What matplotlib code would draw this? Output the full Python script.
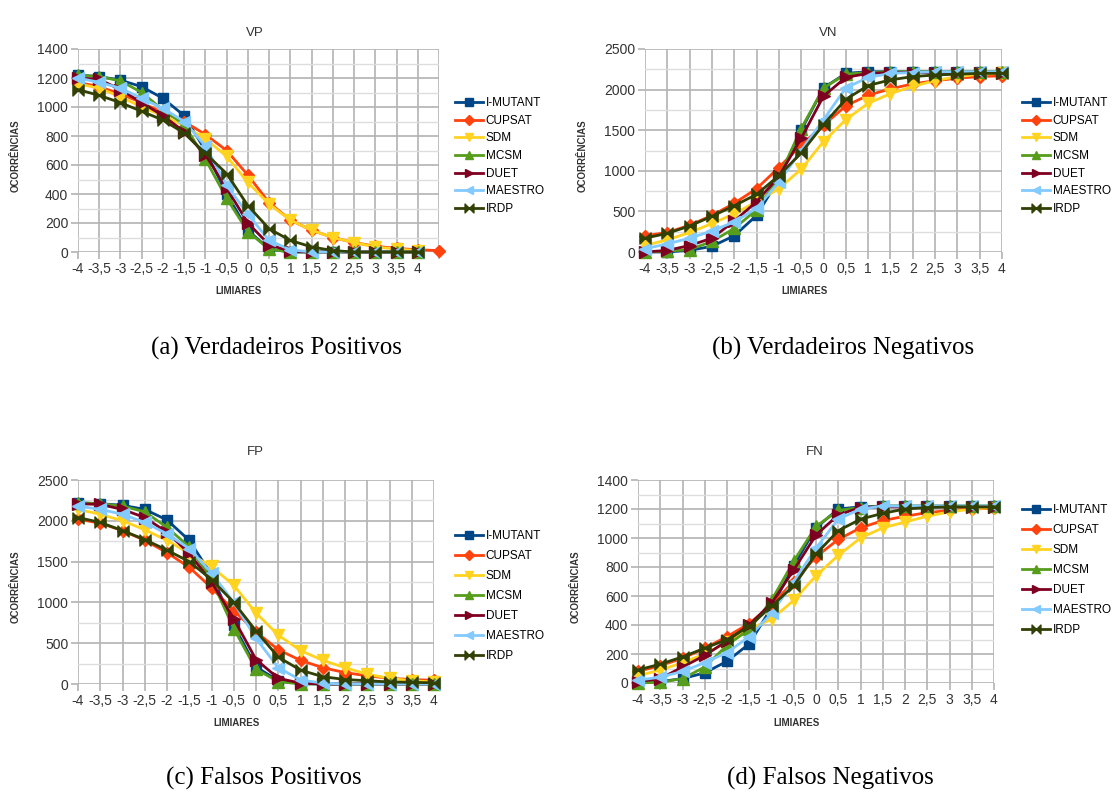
import numpy as np
import matplotlib
matplotlib.use("Agg")
import matplotlib.pyplot as plt
from matplotlib.path import Path
from matplotlib.ticker import MultipleLocator

# limiares -4 .. 4 (passo 0,5)
thresholds = [-4, -3.5, -3, -2.5, -2, -1.5, -1, -0.5, 0, 0.5, 1, 1.5, 2, 2.5, 3, 3.5, 4]
tools = ["I-MUTANT", "CUPSAT", "SDM", "MCSM", "DUET", "MAESTRO", "IRDP"]

# VP - verdadeiros positivos (CUPSAT tem um ponto extra em 4,5)
vp_imutant = [1220, 1210, 1185, 1140, 1060, 940, 700, 400, 150, 20, 0, 0, 0, 0, 0, 0, 0]
vp_cupsat = [1170, 1140, 1090, 1030, 960, 900, 810, 700, 530, 340, 220, 150, 100, 65, 40, 25, 15, 10]
vp_sdm = [1160, 1130, 1070, 1000, 940, 870, 780, 660, 480, 330, 220, 150, 100, 65, 35, 20, 10]
vp_mcsm = [1220, 1210, 1180, 1100, 980, 880, 640, 370, 140, 20, 0, 0, 0, 0, 0, 0, 0]
vp_duet = [1200, 1190, 1120, 1030, 940, 830, 670, 440, 200, 50, 5, 0, 0, 0, 0, 0, 0]
vp_maestro = [1200, 1170, 1130, 1060, 990, 900, 730, 460, 260, 80, 15, 0, 0, 0, 0, 0, 0]
vp_irdp = [1120, 1080, 1030, 970, 910, 820, 680, 540, 320, 160, 80, 35, 10, 0, 0, 0, 0]

# VN - verdadeiros negativos
vn_imutant = [0, 0, 20, 70, 200, 450, 900, 1500, 2020, 2200, 2220, 2220, 2220, 2220, 2220, 2220, 2220]
vn_cupsat = [200, 240, 330, 450, 600, 780, 1040, 1320, 1560, 1800, 1930, 2010, 2070, 2110, 2140, 2160, 2170]
vn_sdm = [80, 150, 240, 350, 470, 620, 780, 1020, 1360, 1630, 1830, 1950, 2040, 2110, 2160, 2190, 2200]
vn_mcsm = [0, 10, 30, 130, 290, 520, 920, 1520, 2020, 2190, 2210, 2220, 2220, 2220, 2220, 2220, 2220]
vn_duet = [0, 20, 80, 170, 380, 620, 930, 1400, 1920, 2150, 2200, 2210, 2210, 2210, 2210, 2210, 2210]
vn_maestro = [40, 100, 170, 260, 370, 540, 860, 1250, 1630, 2020, 2150, 2200, 2210, 2220, 2220, 2220, 2220]
vn_irdp = [170, 230, 320, 440, 570, 710, 940, 1220, 1570, 1880, 2050, 2120, 2160, 2180, 2190, 2200, 2200]

# FP - falsos positivos
fp_imutant = [2220, 2210, 2190, 2140, 2010, 1760, 1340, 720, 210, 40, 5, 0, 0, 0, 0, 0, 0]
fp_cupsat = [2020, 1970, 1880, 1760, 1610, 1430, 1180, 900, 640, 420, 290, 200, 140, 100, 70, 55, 45]
fp_sdm = [2140, 2080, 2000, 1890, 1760, 1600, 1440, 1210, 870, 600, 410, 290, 200, 120, 70, 40, 25]
fp_mcsm = [2220, 2210, 2180, 2110, 1920, 1680, 1280, 680, 180, 30, 0, 0, 0, 0, 0, 0, 0]
fp_duet = [2210, 2200, 2140, 2040, 1860, 1600, 1250, 800, 300, 70, 10, 0, 0, 0, 0, 0, 0]
fp_maestro = [2180, 2140, 2080, 1980, 1840, 1660, 1360, 1000, 560, 200, 50, 10, 0, 0, 0, 0, 0]
fp_irdp = [2040, 1980, 1880, 1770, 1640, 1500, 1280, 1000, 650, 330, 170, 90, 55, 40, 25, 20, 15]

# FN - falsos negativos
fn_imutant = [0, 10, 30, 70, 150, 270, 520, 810, 1070, 1200, 1215, 1220, 1220, 1220, 1220, 1220, 1220]
fn_cupsat = [80, 120, 170, 240, 320, 410, 540, 700, 870, 990, 1070, 1120, 1150, 1175, 1190, 1200, 1205]
fn_sdm = [50, 90, 140, 200, 280, 370, 440, 570, 740, 880, 1000, 1070, 1110, 1150, 1180, 1200, 1210]
fn_mcsm = [0, 5, 30, 110, 260, 370, 570, 840, 1080, 1190, 1210, 1220, 1220, 1220, 1220, 1220, 1220]
fn_duet = [10, 30, 110, 190, 290, 400, 550, 780, 1020, 1160, 1210, 1215, 1215, 1215, 1215, 1215, 1215]
fn_maestro = [20, 40, 80, 140, 210, 320, 480, 700, 930, 1130, 1200, 1220, 1220, 1220, 1220, 1220, 1220]
fn_irdp = [90, 130, 180, 240, 300, 390, 530, 670, 890, 1050, 1130, 1170, 1200, 1210, 1215, 1215, 1215]

colors = ["#004586", "#ff420e", "#ffd320", "#579d1c", "#7e0021", "#83caff", "#314004"]
bowtie = Path([(-1, 1), (-1, -1), (1, 1), (1, -1), (-1, 1)],
              [Path.MOVETO, Path.LINETO, Path.LINETO, Path.LINETO, Path.CLOSEPOLY])
markers = ["s", "D", "v", "^", ">", "<", bowtie]
msizes = [7, 6, 8, 8, 8, 8, 8]

W, H = 1116, 792
fig = plt.figure(figsize=(W / 100, H / 100), dpi=100)
SANS = "Liberation Sans"
TXT = "#333333"


def px_axes(l, t, r, b):
    return fig.add_axes([l / W, (H - b) / H, (r - l) / W, (b - t) / H])


def draw_panel(box, title, title_xy, series, ymax, ystep, legend_xy, spacing, xlab_xy, xmax=4):
    ax = px_axes(*box)
    for i, (name, ys) in enumerate(zip(tools, series)):
        xs = np.arange(len(ys)) * 0.5 - 4
        ax.plot(xs, ys, color=colors[i], lw=2.0, marker=markers[i], ms=msizes[i],
                mec=colors[i], mfc=colors[i], label=name, clip_on=False, zorder=3 + i)
    ax.set_xlim(-4, xmax)
    ax.set_ylim(0, ymax)
    xt = np.arange(-4, xmax + 0.01, 0.5)
    ax.set_xticks(xt)
    ax.set_xticklabels([("%g" % v).replace(".", ",") if v <= 4 else "" for v in xt])
    ax.yaxis.set_major_locator(MultipleLocator(ystep))
    ax.yaxis.set_minor_locator(MultipleLocator(ystep / 2))
    ax.grid(True, which="major", color="#b3b3b3", lw=1.2, zorder=0)
    ax.grid(True, which="minor", axis="y", color="#dddddd", lw=1.0, zorder=0)
    ax.set_axisbelow(True)
    for s in ax.spines.values():
        s.set_visible(False)
    ax.tick_params(which="major", length=5, color="#b3b3b3", width=1.2,
                   labelsize=10, labelcolor=TXT, pad=2)
    ax.tick_params(which="minor", length=0)
    for lab in ax.get_xticklabels() + ax.get_yticklabels():
        lab.set_fontfamily(SANS)
    fig.text(title_xy[0] / W, 1 - title_xy[1] / H, title, ha="center", va="center",
             fontsize=9.5, family=SANS, color=TXT)
    fig.text(xlab_xy[0] / W, 1 - xlab_xy[1] / H, "LIMIARES", ha="center", va="center",
             fontsize=7, family=SANS, color=TXT, fontweight="bold")
    fig.text((box[0] - 62) / W, 1 - ((box[1] + box[3]) / 2 + 5) / H, "OCORRÊNCIAS",
             ha="center", va="center", rotation=90, fontsize=7, family=SANS,
             color=TXT, fontweight="bold")
    ax.legend(loc="upper left", bbox_to_anchor=(legend_xy[0] / W, 1 - legend_xy[1] / H),
              bbox_transform=fig.transFigure, frameon=False, prop={"family": SANS, "size": 8.5},
              handlelength=2.4, handletextpad=0.2, labelspacing=spacing, borderpad=0,
              borderaxespad=0, markerscale=0.8)
    return ax


draw_panel((78, 49, 439, 252), "VP", (255, 33),
           [vp_imutant, vp_cupsat, vp_sdm, vp_mcsm, vp_duet, vp_maestro, vp_irdp],
           1400, 200, (455, 97), 0.48, (239, 291), xmax=4.5)
draw_panel((645, 49, 1002, 252), "VN", (828, 33),
           [vn_imutant, vn_cupsat, vn_sdm, vn_mcsm, vn_duet, vn_maestro, vn_irdp],
           2500, 500, (1022, 97), 0.48, (805, 291))
draw_panel((78, 480, 434, 684), "FP", (255, 452),
           [fp_imutant, fp_cupsat, fp_sdm, fp_mcsm, fp_duet, fp_maestro, fp_irdp],
           2500, 500, (455, 530), 0.68, (237, 723))
draw_panel((638, 480, 994, 683), "FN", (815, 452),
           [fn_imutant, fn_cupsat, fn_sdm, fn_mcsm, fn_duet, fn_maestro, fn_irdp],
           1400, 200, (1022, 504), 0.68, (797, 723))

captions = [("(a) Verdadeiros Positivos", 276, 348), ("(b) Verdadeiros Negativos", 843, 348),
            ("(c) Falsos Positivos", 264, 778), ("(d) Falsos Negativos", 830, 778)]
for text, cx, cy in captions:
    fig.text(cx / W, 1 - cy / H, text, ha="center", va="center", fontsize=18,
             family="Liberation Serif", color="black")

fig.savefig("out.png", dpi=100)
